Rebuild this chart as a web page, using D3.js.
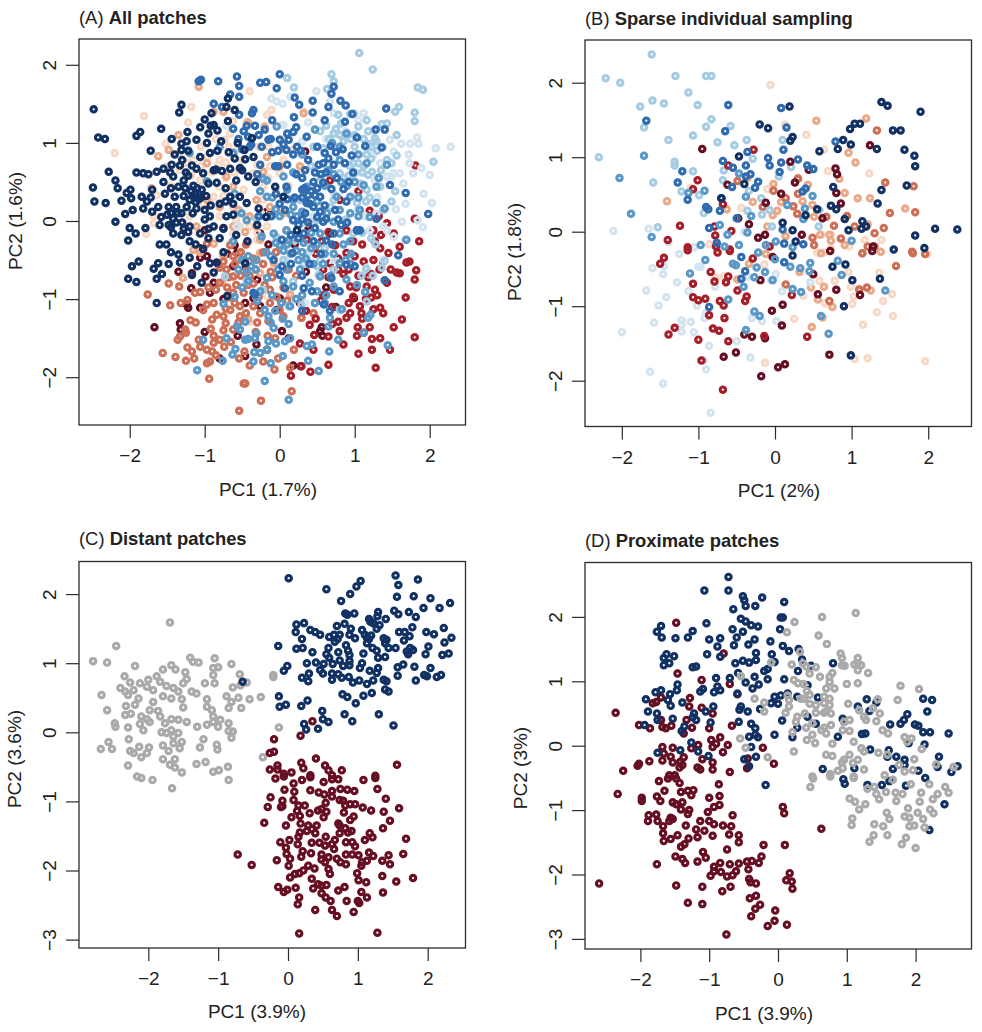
<!DOCTYPE html>
<html>
<head>
<meta charset="utf-8">
<script src="https://cdn.jsdelivr.net/npm/d3@7"></script>
<style>
  body { margin: 0; background: #fff; }
  svg { display: block; }
  text { font-family: "Liberation Sans", Arial, sans-serif; fill: #222; }
</style>
</head>
<body>
<div id="chart"></div>
<script>
// Tick labels
var ticksAX = [-2, -1, 0, 1, 2], ticksAY = [-2, -1, 0, 1, 2];
var ticksBX = [-2, -1, 0, 1, 2], ticksBY = [-2, -1, 0, 1, 2];
var ticksCX = [-2, -1, 0, 1, 2], ticksCY = [-3, -2, -1, 0, 1, 2];
var ticksDX = [-2, -1, 0, 1, 2], ticksDY = [-3, -2, -1, 0, 1, 2];

// Panel A values per colour group
var aMaroon = [[-1.06,-0.35],[-0.17,0.12],[-0.11,0.10],[0.38,-0.07],[-1.00,-0.12],[-0.75,-0.09],[-0.26,-0.16],[0.34,0.89],[-0.60,-0.31],[0.67,-0.16],[-1.67,-1.36],[-1.18,-0.86],[-1.24,-1.07],[-1.22,-1.11],[-1.33,-1.31],[-1.32,-1.39],[-1.00,-1.42],[-0.80,-1.76],[-1.06,-1.11],[-0.93,-0.92],[-0.88,-0.79],[-1.35,-0.65],[-1.06,-0.47],[-0.97,-0.45],[-0.62,-0.58],[-0.57,-0.41],[-0.46,-1.05],[-0.56,-1.47],[-0.46,-1.73],[-0.31,-1.58],[-0.17,-1.65],[0.03,-1.41],[0.12,-1.50],[0.18,-1.85],[0.28,-1.86],[0.56,-1.36],[0.57,-1.47],[0.99,-0.99],[-0.04,-1.14],[0.00,-0.99],[-0.35,-0.99],[-0.26,-1.09],[0.27,-1.05],[0.54,-1.41],[-0.99,-0.71],[-1.17,-0.67],[-0.82,-0.55],[-0.70,-0.42],[-0.45,-0.60],[-0.30,-0.75],[-0.15,-0.30],[0.20,-0.30],[0.35,-0.65],[0.62,-0.85],[0.75,-1.10],[-0.75,-1.00]];
var aRed = [[1.81,0.71],[1.80,0.03],[1.86,-0.26],[1.20,0.13],[1.32,0.06],[1.43,-0.03],[1.05,0.38],[0.80,0.27],[0.67,0.52],[1.52,-0.16],[1.25,-0.12],[1.03,-0.12],[0.89,-0.12],[0.65,-0.14],[1.27,-0.26],[1.60,-0.33],[1.34,-0.35],[0.98,-0.26],[0.74,-0.31],[0.36,-0.24],[0.56,-0.26],[1.82,-0.63],[1.80,-0.75],[1.73,-0.52],[1.69,-0.53],[1.56,-0.66],[1.60,-0.67],[1.68,-0.98],[1.63,-1.26],[1.52,-1.36],[1.80,-1.49],[1.47,-1.65],[1.34,-1.50],[1.23,-1.51],[1.23,-1.65],[1.05,-1.70],[1.28,-1.88],[0.65,-1.84],[0.85,-1.58],[1.20,-1.36],[1.04,-1.36],[1.03,-1.47],[1.12,-1.43],[1.38,-1.18],[1.34,-1.11],[1.25,-1.13],[1.09,-1.18],[0.89,-1.24],[0.94,-1.18],[0.78,-1.29],[0.80,-1.41],[0.65,-1.48],[0.45,-1.65],[0.40,-1.33],[0.46,-1.46],[0.27,-1.57],[0.29,-1.86],[0.41,-1.93],[0.15,-1.98],[1.27,-0.88],[1.16,-0.84],[0.98,-0.97],[1.07,-1.09],[0.72,-0.88],[1.45,-0.41],[1.25,-0.50],[1.12,-0.52],[0.89,-0.41],[0.67,-0.54],[0.94,-0.84],[0.58,-0.62],[1.43,-0.79],[1.18,-0.72],[1.33,-0.62],[1.05,-0.70],[0.85,-0.68],[0.48,-0.42],[1.22,-0.98],[0.92,-1.05],[0.70,-1.10],[0.55,-1.02],[0.35,-1.15],[1.10,-0.30],[0.78,-0.48],[1.02,-0.85],[1.15,-1.00],[1.30,-0.95],[1.22,-0.68],[1.38,-0.52],[0.92,-0.62],[0.65,-0.72],[0.78,-0.62],[0.58,-0.95],[0.48,-1.25],[0.70,-1.32],[1.00,-0.45],[1.35,-0.18],[1.48,-0.62],[1.10,-1.25]];
var aPale = [[-0.40,1.66],[-1.18,1.46],[-1.81,1.34],[-2.20,0.87],[-1.22,1.26],[-1.52,0.99],[-0.11,1.42],[-0.17,1.36],[0.03,1.23],[-0.44,1.27],[-0.66,1.12],[-0.73,1.04],[-0.80,0.78],[-0.97,0.82],[-1.15,0.78],[-0.35,0.82],[-1.51,0.70],[-1.33,0.65],[-1.06,0.52],[-1.64,0.33],[-1.68,0.06],[-1.68,-0.03],[-1.78,-0.17],[-0.13,0.70],[0.05,0.78],[-0.22,0.44],[-0.62,0.18],[-0.80,0.06],[-0.53,-0.07],[-0.40,-0.07],[-0.22,0.27],[0.32,0.67],[0.00,0.61],[-0.35,0.61],[-0.88,0.31],[-0.80,0.44],[-1.20,0.06],[-1.24,0.74],[-0.17,-0.07],[0.32,1.40],[-1.08,-0.16],[-0.31,-0.24],[-0.62,-0.16],[-1.11,-0.38],[-0.51,-0.39],[-0.40,-1.29],[-0.42,-0.45],[-0.17,-0.96],[0.14,-0.96],[-0.90,0.62],[-0.72,0.75],[-0.58,0.90],[-0.28,0.95],[-0.05,0.40],[-0.48,0.40],[-0.65,-0.28],[-0.25,0.10],[-1.35,0.85],[-1.05,0.95],[-0.62,1.28],[0.12,0.45],[-0.72,0.55],[-0.60,0.62],[-0.50,0.78],[-0.68,0.95],[-0.85,1.05],[-0.30,0.72],[-0.45,0.05],[-0.58,0.02],[-0.30,-0.15],[-0.42,-0.28],[-0.82,0.72],[-0.15,0.55],[-1.05,0.70],[-1.18,0.58],[-1.45,0.45],[-1.02,0.22],[-0.75,0.32],[-0.15,0.95],[0.18,0.92],[0.05,1.05]];
var aSalmon = [[-1.08,1.72],[-1.35,1.10],[-1.71,0.42],[-1.62,0.83],[-0.88,1.40],[-0.75,1.40],[-0.42,1.26],[-0.20,1.21],[0.32,1.38],[-1.48,0.91],[-0.97,0.27],[-0.71,0.57],[-0.97,0.74],[-0.62,0.44],[-0.22,0.63],[0.00,0.70],[-0.17,0.82],[0.27,0.70],[-0.31,0.27],[-0.40,0.06],[-0.80,0.18],[-0.55,0.14],[-0.31,-0.07],[0.09,-0.12],[0.05,0.10],[-0.13,0.18],[-0.46,-0.14],[-0.62,-0.07],[-0.26,-0.24],[-1.11,-0.07],[-1.26,-0.07],[-0.88,-0.29],[-1.29,-0.73],[-1.06,-0.40],[-1.15,-0.37],[-0.77,-0.79],[-0.53,-0.50],[-0.26,-0.41],[0.14,-0.94],[-0.08,-0.54],[-0.42,-1.26],[-0.26,-0.67],[0.29,-1.24],[-0.75,-0.45]];
var aBrick = [[-1.76,-0.94],[-1.48,-0.80],[-1.34,-0.84],[-1.46,-1.08],[-1.19,-1.27],[-1.25,-1.43],[-1.36,-1.52],[-1.23,-1.62],[-1.56,-1.69],[-1.39,-1.74],[-1.25,-1.79],[-1.14,-1.76],[-1.17,-1.67],[-1.06,-1.61],[-0.97,-1.65],[-0.90,-1.67],[-0.97,-1.82],[-0.93,-1.80],[-0.94,-2.02],[-0.88,-1.47],[-0.80,-1.52],[-0.88,-1.56],[-0.74,-1.61],[-1.08,-1.52],[-0.48,-2.08],[-0.46,-2.08],[-0.25,-2.30],[-0.54,-2.43],[0.16,-2.18],[-0.54,-1.76],[-0.40,-1.85],[-0.22,-1.80],[-0.47,-1.67],[-0.02,-1.76],[-0.07,-1.90],[0.19,-1.65],[-0.16,-1.47],[-0.06,-1.50],[-0.62,-1.39],[-0.90,-1.26],[-0.72,-1.31],[-0.88,-1.05],[-0.97,-1.07],[-1.06,-0.91],[-1.13,-0.92],[-1.23,-1.01],[-0.84,-1.20],[-0.66,-1.14],[-0.53,-1.09],[-0.35,-1.09],[-0.26,-1.18],[-0.13,-1.05],[0.00,-1.14],[0.29,-1.24],[0.45,-1.18],[-0.80,-0.79],[-0.62,-0.71],[-0.44,-0.62],[-0.35,-0.80],[-0.13,-0.88],[-0.62,-0.92],[-0.53,-1.22],[-0.28,-0.97],[-0.04,-0.97],[-0.71,-0.62],[-1.33,-1.48],[-1.26,-1.39],[0.14,-1.88],[-1.02,-1.14],[-0.75,-1.22],[-0.97,-0.29],[-0.66,-0.31],[0.18,-0.24],[0.47,-0.35],[-0.70,-0.85],[-0.58,-0.82],[-0.48,-0.92],[-0.40,-0.70],[-0.22,-0.55],[-0.10,-0.72],[0.05,-0.85],[-0.75,-1.40],[-0.60,-1.05],[-0.45,-1.18],[-0.15,-1.28],[0.10,-1.02],[-0.80,-0.60],[-0.52,-0.40],[-0.35,-0.48],[-0.60,-0.55],[-0.68,-0.98],[-0.92,-1.38],[-0.95,-0.85],[-0.30,-1.30],[0.22,-0.70],[-0.05,-0.40],[-0.68,-0.72],[-0.52,-0.70],[-0.75,-0.52],[-0.42,-0.82],[-0.20,-0.82],[-0.32,-0.62],[-0.12,-0.65],[-0.85,-0.88],[-0.72,-1.12],[-0.55,-1.30],[-0.32,-1.42],[-0.65,-1.55],[-0.85,-1.72],[-1.12,-1.30],[-1.32,-1.05],[0.05,-1.22],[0.12,-0.62],[-0.62,-0.45],[-0.45,-0.30],[-0.22,-0.40]];
var aMist = [[2.28,0.95],[2.08,0.93],[1.83,1.07],[1.85,0.99],[1.74,0.99],[1.62,0.99],[1.52,0.89],[1.72,0.85],[1.73,0.74],[1.89,0.68],[1.78,0.61],[2.00,0.59],[1.65,0.48],[1.92,0.35],[2.03,0.23],[1.84,0.01],[1.91,-0.08],[1.52,0.61],[1.43,0.57],[0.49,1.66],[-0.11,1.57],[-0.04,1.53],[0.04,1.50],[0.14,1.59],[1.12,1.38],[1.00,1.38],[1.05,1.29],[0.38,1.26],[0.05,1.23],[0.72,1.38],[0.67,1.53],[1.25,0.85],[1.16,0.93],[-0.71,1.22],[1.47,1.04],[1.34,0.74],[1.60,0.61],[1.49,0.57],[1.27,0.52],[1.29,0.10],[1.63,-0.01],[1.43,-0.12],[1.20,-0.12],[1.14,0.06],[0.98,0.31],[0.72,0.35],[-0.57,-0.07],[-0.26,0.06],[0.32,-0.03],[0.45,0.06],[1.52,-0.20],[1.38,-0.07],[1.38,-0.50],[1.16,-0.60],[0.72,-0.50],[0.34,-1.05],[0.40,-0.39],[0.09,-0.50],[1.10,0.45],[1.30,0.30],[1.55,0.15],[1.68,0.22],[1.02,0.62],[0.88,1.15],[0.62,1.05],[0.30,1.02],[1.38,0.95],[1.25,1.15]];
var aSky = [[1.06,2.15],[1.24,1.94],[0.69,1.88],[0.72,1.79],[1.84,1.71],[1.91,1.68],[0.19,1.71],[0.10,1.83],[0.63,1.69],[1.59,1.46],[1.54,1.40],[1.80,1.39],[1.80,1.28],[1.43,1.25],[1.36,1.24],[1.16,1.29],[1.56,1.10],[0.94,1.37],[1.05,1.21],[0.78,1.36],[0.54,1.15],[0.72,1.12],[0.80,1.10],[1.27,1.06],[1.29,1.02],[1.18,0.99],[2.05,0.76],[1.56,0.84],[1.43,0.78],[1.16,0.85],[1.05,0.74],[1.23,0.63],[1.18,0.59],[1.49,0.74],[1.07,0.48],[1.54,0.38],[1.34,0.44],[1.16,0.40],[1.15,0.25],[1.38,0.14],[1.49,0.25],[0.45,0.95],[0.58,0.93],[0.98,0.74],[0.80,0.61],[0.94,0.70],[0.72,0.27],[1.03,0.23],[0.27,0.27],[-0.13,0.06],[0.49,0.01],[0.98,-0.16],[1.68,-0.24],[-0.31,0.03],[1.09,-0.70],[1.24,-0.70],[1.15,-0.61],[1.40,-0.51],[1.36,-0.60],[1.16,-1.03],[1.14,-0.91],[0.80,-1.14],[0.52,-0.69],[0.36,-0.50],[0.54,-0.50],[0.29,-1.07],[0.47,-1.05],[0.12,-1.09],[0.05,-0.50],[0.18,-0.77],[-0.22,-0.88],[-0.44,-0.77],[-0.73,-0.71],[0.66,1.05],[0.75,1.18],[0.85,1.02],[1.00,0.95],[1.12,1.05],[0.92,0.58],[1.10,0.62],[1.22,0.80],[0.68,0.18],[0.88,0.02],[1.22,-0.22],[0.60,-0.35],[0.72,-0.62],[0.20,-0.25],[-0.05,-0.20],[1.00,1.10],[0.95,1.05],[0.90,1.12],[1.22,0.95],[1.30,0.90],[1.12,0.70],[0.98,0.60],[1.20,0.30],[1.32,0.55],[1.05,0.15],[0.85,0.55],[0.55,0.55],[0.42,0.70],[0.82,1.25],[0.62,1.22],[1.18,1.15],[1.35,0.65],[1.10,-0.15],[1.28,-0.30],[0.50,-0.58],[0.32,-0.55]];
var aSteel = [[-1.20,0.87],[-0.80,0.95],[-0.97,0.51],[-0.62,0.87],[-0.26,0.38],[-0.17,0.52],[-0.60,0.35],[-0.51,0.10],[-0.17,0.31],[0.18,0.18],[-0.04,1.21],[0.47,1.17],[0.89,1.12],[1.05,0.85],[1.16,0.74],[0.80,0.78],[1.32,0.55],[1.12,0.46],[1.29,0.44],[1.43,0.72],[0.94,0.31],[1.07,0.14],[1.29,0.23],[1.40,0.16],[0.80,0.14],[1.05,0.06],[0.36,0.44],[0.05,0.57],[-0.22,0.54],[0.65,0.65],[0.76,0.31],[0.18,0.27],[0.23,0.06],[0.00,0.06],[0.63,0.10],[0.94,0.10],[-0.62,-0.26],[-0.44,0.01],[0.72,-0.01],[0.54,-0.16],[0.09,-0.12],[0.94,-0.26],[1.69,-0.24],[-0.08,-0.16],[-0.24,-0.20],[0.00,-0.31],[0.80,-0.16],[-1.02,-1.52],[-0.71,-1.50],[-1.10,-1.91],[-0.76,-1.79],[-0.63,-1.71],[-0.59,-1.64],[-0.34,-1.68],[-0.26,-1.69],[-0.35,-1.80],[-0.12,-1.82],[0.04,-1.73],[0.07,-1.54],[0.14,-1.50],[0.38,-1.79],[0.52,-1.92],[0.36,-1.60],[0.43,-1.58],[0.66,-1.67],[0.78,-1.52],[1.44,-1.59],[1.18,-1.24],[1.21,-1.20],[1.12,-1.43],[0.12,-2.29],[-0.20,-2.05],[-0.17,-1.65],[-0.15,-1.54],[-0.05,-1.57],[-0.33,-1.50],[-0.42,-1.51],[-0.46,-1.52],[-0.31,-1.44],[-0.57,-1.35],[-0.46,-1.29],[-0.53,-1.39],[0.04,-1.25],[0.12,-1.32],[-0.08,-1.37],[-0.20,-1.14],[-0.06,-1.15],[-0.15,-1.22],[-0.75,-1.06],[-0.60,-0.97],[0.65,-1.35],[0.67,-1.24],[0.60,-1.05],[0.47,-1.05],[0.14,-1.09],[0.18,-0.84],[0.05,-0.77],[-0.17,-0.73],[-0.42,-0.77],[-0.26,-0.90],[-0.44,-0.67],[-0.31,-0.50],[0.25,-0.50],[0.40,-0.79],[0.54,-0.71],[0.72,-0.84],[0.89,-0.75],[1.03,-0.82],[1.14,-0.91],[0.83,-1.13],[0.80,-0.54],[0.27,-0.62],[0.09,-0.62],[0.15,-0.42],[0.30,-0.40],[0.45,-0.55],[0.60,-0.42],[0.68,-0.70],[0.95,-0.55],[0.12,-0.25],[0.32,-0.28],[0.50,-0.30],[-0.12,-0.45],[-0.02,-0.62],[0.30,-0.95],[0.50,-0.90],[0.62,-0.95],[-0.10,0.30],[0.10,0.40],[0.30,0.12],[0.50,0.25],[0.90,0.45],[1.20,0.05],[-0.32,-0.62],[-0.50,-0.50],[0.10,-0.30],[0.22,-0.38],[0.35,-0.48],[0.42,-0.35],[0.58,-0.55],[0.72,-0.42],[0.85,-0.30],[0.95,-0.42],[0.05,-0.38],[-0.05,-0.28],[-0.18,-0.40],[-0.42,-0.45],[-0.38,-0.58],[-0.55,-0.62],[-0.50,-0.85],[-0.30,-1.02],[-0.10,-0.95],[0.02,-1.05],[0.22,-1.00],[-0.12,-1.30],[0.72,0.60],[0.60,0.45],[0.82,0.50],[1.00,0.50],[1.05,0.30],[0.80,0.95],[0.70,1.00],[0.30,0.85],[0.18,0.62],[-0.05,0.15],[0.15,0.08],[0.42,-0.15],[0.88,-0.50]];
var aBlue = [[-1.08,1.79],[-1.05,1.81],[-0.82,1.79],[-0.57,1.85],[-0.54,1.73],[-0.26,1.77],[-0.18,1.78],[0.00,1.88],[-0.04,1.70],[-0.66,1.62],[-0.54,1.59],[-0.88,1.50],[-0.77,1.46],[-0.35,1.42],[-0.37,1.38],[-0.54,1.36],[-0.10,1.29],[0.20,1.58],[0.26,1.49],[0.44,1.54],[0.44,1.39],[0.65,1.46],[0.72,1.72],[0.69,1.63],[0.81,1.54],[0.88,1.48],[0.97,1.37],[1.42,1.44],[0.60,1.29],[0.19,1.33],[0.87,1.27],[1.28,1.17],[1.40,1.17],[1.36,0.94],[1.14,0.96],[1.03,1.07],[0.84,0.92],[-0.44,1.22],[-0.33,1.22],[-0.20,1.17],[0.18,1.14],[-0.42,1.08],[-0.15,1.04],[0.00,1.04],[0.12,1.04],[0.23,0.95],[0.36,1.08],[-0.24,0.95],[0.09,0.91],[0.18,0.85],[0.38,0.78],[-0.10,0.88],[0.60,0.87],[0.58,0.74],[0.72,0.72],[0.87,0.74],[-0.06,0.70],[-0.02,0.70],[-0.26,0.72],[0.96,0.84],[0.34,0.65],[0.47,0.62],[0.22,0.60],[0.09,0.44],[0.58,0.49],[0.76,0.55],[0.92,0.50],[0.98,0.62],[1.47,0.46],[1.68,0.36],[0.85,0.41],[0.69,0.41],[0.47,0.33],[0.54,0.31],[0.38,0.33],[0.36,0.23],[0.07,0.14],[0.18,0.01],[0.54,0.12],[0.74,0.14],[0.34,0.10],[0.58,-0.01],[0.89,0.25],[1.03,-0.12],[1.29,0.03],[1.07,-0.12],[0.47,-0.09],[0.72,-0.16],[0.32,-0.16],[0.03,-0.24],[0.45,-0.26],[-0.28,0.06],[-0.11,0.06],[1.98,0.09],[0.00,-0.69],[0.40,-0.55],[0.17,-0.41],[0.03,-0.58],[0.07,-0.86],[0.89,-0.56],[0.69,-0.73],[1.58,-0.44],[1.40,-0.76],[0.59,-1.07],[0.67,-1.15],[0.80,-0.90],[-0.33,-0.94],[-0.35,-0.92],[0.43,-0.90],[0.32,-0.86],[0.30,-1.15],[1.00,-0.58],[-0.50,0.92],[-0.38,0.98],[-0.30,0.60],[0.05,0.98],[0.28,0.90],[0.50,0.95],[0.68,0.96],[0.52,0.72],[0.45,0.50],[0.30,0.40],[0.60,0.20],[0.20,0.30],[0.00,0.22],[0.82,-0.05],[0.62,-0.25],[0.25,-0.05],[0.15,-0.18],[-0.55,1.05],[-0.62,1.18],[0.30,0.30],[0.33,0.42],[0.42,0.38],[0.50,0.42],[0.40,0.22],[0.55,0.60],[0.62,0.62],[0.65,0.80],[0.75,0.88],[0.30,0.55],[0.10,0.72],[-0.02,0.90],[-0.12,1.05],[-0.40,0.95],[-0.48,1.15],[-0.28,1.10],[0.22,1.20],[0.10,1.12],[0.45,0.18],[0.10,0.28],[-0.05,0.35],[0.25,-0.22],[0.38,-0.02],[0.62,0.03],[0.78,0.02],[0.90,-0.02],[0.55,-0.42],[0.70,-0.30],[0.15,-0.55],[0.30,-0.70],[-0.08,-0.50],[0.50,0.05],[0.30,0.02]];
var aNavy = [[-2.48,1.43],[-2.42,1.07],[-2.33,1.05],[-1.91,1.09],[-1.86,1.14],[-1.58,1.18],[-1.72,0.90],[-1.31,1.49],[-1.34,1.39],[-1.06,1.20],[-0.69,1.57],[-0.71,1.46],[-0.60,1.42],[-0.91,1.38],[-0.69,1.28],[-0.88,1.23],[-1.23,1.14],[-0.95,1.12],[-0.83,1.16],[-1.44,1.05],[-1.31,0.99],[-1.24,1.02],[-1.11,1.04],[-0.97,1.00],[-1.31,0.91],[-1.06,0.82],[-1.40,0.85],[-0.93,0.87],[-0.83,0.90],[-0.56,1.00],[-0.37,1.06],[-0.47,0.91],[-0.60,0.80],[-0.46,0.79],[-0.35,0.82],[-2.28,0.63],[-2.19,0.52],[-2.16,0.42],[-2.49,0.43],[-2.47,0.25],[-2.32,0.23],[-2.11,0.26],[-1.99,0.40],[-2.04,0.36],[-1.98,0.29],[-1.96,0.14],[-2.06,0.09],[-2.19,-0.01],[-2.00,-0.09],[-1.92,-0.16],[-1.79,-0.09],[-2.02,-0.25],[-1.60,-0.30],[-1.51,-0.30],[-1.91,0.62],[-1.82,0.61],[-1.75,0.60],[-1.64,0.63],[-1.55,0.67],[-1.44,0.72],[-1.33,0.71],[-1.17,0.71],[-1.11,0.67],[-1.02,0.61],[-0.88,0.65],[-0.77,0.64],[-0.66,0.67],[-0.53,0.68],[-0.42,0.57],[-0.32,0.50],[-1.84,0.31],[-1.77,0.25],[-1.82,0.16],[-1.62,0.18],[-1.55,0.50],[-1.42,0.57],[-1.28,0.52],[-1.35,0.44],[-1.53,0.35],[-1.40,0.31],[-1.48,0.18],[-1.42,0.03],[-1.31,0.10],[-1.20,0.27],[-1.13,0.35],[-1.04,0.40],[-1.24,0.18],[-1.11,0.16],[-1.00,0.14],[-0.84,0.49],[-0.66,0.31],[-0.53,0.31],[-0.44,0.23],[-0.80,0.22],[-0.93,0.06],[-0.71,0.06],[-1.20,-0.07],[-1.06,-0.16],[-0.88,-0.07],[-1.42,-0.16],[-1.31,-0.18],[-1.20,-0.26],[-0.95,-0.22],[-0.80,-0.22],[-0.43,-0.26],[-0.28,0.16],[0.05,0.31],[-0.06,0.44],[0.23,-0.12],[-1.88,-0.52],[-1.97,-0.58],[-2.02,-0.74],[-1.91,-0.78],[-1.68,-0.61],[-1.62,-0.54],[-1.57,-0.68],[-1.64,-0.74],[-1.48,-0.55],[-1.45,-0.40],[-1.35,-0.43],[-1.33,-0.53],[-1.20,-0.47],[-1.17,-0.69],[-1.04,-0.79],[-0.93,-0.54],[-0.84,-0.53],[-0.88,-0.66],[-1.64,-1.05],[-0.70,-0.96],[-0.46,-0.54],[-1.15,0.45],[-1.08,0.28],[-1.16,0.10],[-1.28,0.32],[-1.46,0.62],[-1.36,0.10],[-1.30,-0.02],[-0.98,0.32],[-0.72,0.42],[-1.22,0.58],[-1.48,-0.05],[-1.58,0.05],[-1.70,0.12],[-0.58,0.52],[-0.92,0.20],[-0.75,-0.10],[-0.62,0.08],[-1.02,-0.36],[-1.12,-0.30],[-1.16,0.32],[-1.12,0.24],[-1.05,0.30],[-1.18,0.38],[-1.10,0.42],[-1.38,0.18],[-1.45,0.10],[-1.50,0.08],[-1.38,-0.02],[-1.45,-0.08],[-1.28,-0.10],[-1.22,-0.14],[-1.00,0.02],[-0.95,-0.10],[-0.72,0.25],[-0.62,0.22],[-0.95,0.48],[-1.26,0.42],[-1.45,0.42],[-1.70,0.40],[-1.72,0.30],[-1.30,0.78],[-1.22,0.90],[-1.00,1.30],[-0.92,1.22],[-0.78,1.02],[-0.68,0.88],[-0.50,0.65],[-0.85,0.66],[-1.25,0.62],[-1.60,-0.05],[-1.10,-0.58],[-0.75,-0.40],[-0.58,-0.18],[-0.30,-0.05],[-0.18,0.05]];

// Panel B values
var bMaroon = [[-0.95,1.11],[0.20,0.94],[0.79,0.85],[0.81,0.77],[1.24,1.16],[0.80,0.52],[0.86,0.38],[0.26,0.66],[0.08,0.51],[-0.12,0.39],[-0.34,0.10],[-0.48,0.18],[-0.62,0.63],[-0.22,-0.08],[-0.13,-0.04],[0.35,-0.04],[0.62,0.18],[1.28,-0.20],[0.44,0.83],[-0.03,-0.34],[0.72,-0.26],[1.27,-0.26],[0.50,-0.57],[-0.19,-0.65],[0.56,-0.84],[0.80,-0.78],[1.11,-0.85],[0.10,-0.98],[-0.04,-1.06],[0.09,-1.26],[-0.40,-1.38],[-0.30,-1.41],[-0.13,-1.43],[-0.51,-1.62],[-0.67,-1.68],[0.71,-1.65],[0.13,-1.78],[0.04,-1.82],[-0.18,-1.94]];
var bRed = [[-0.28,1.10],[-0.61,0.89],[-1.01,0.69],[-1.07,0.57],[-0.68,0.37],[-1.24,0.08],[-0.78,-0.05],[-0.57,0.01],[-0.79,0.07],[-1.40,-0.11],[-1.14,-0.21],[-0.77,-0.20],[-0.59,-0.24],[-0.07,-0.20],[-1.45,-0.35],[-1.50,-0.43],[-1.14,-0.25],[-0.75,-0.28],[-0.59,-0.26],[-0.29,-0.36],[-0.84,-0.54],[-1.07,-0.70],[-0.64,-0.68],[-0.61,-0.60],[-0.79,-0.67],[-1.07,-0.88],[-1.00,-0.92],[-0.91,-0.90],[-0.72,-0.93],[-0.67,-0.99],[-0.49,-0.79],[-0.37,-0.87],[-0.39,-0.93],[-0.86,-1.12],[-0.66,-1.16],[-1.31,-1.29],[-1.39,-1.38],[-0.81,-1.30],[-0.73,-1.33],[-1.00,-1.45],[-0.61,-1.47],[-0.68,-2.12],[-0.96,-1.73],[-0.14,-1.40],[0.42,-1.41],[0.22,-0.85]];
var bPale = [[-0.06,1.97],[0.13,1.44],[0.41,1.30],[0.64,1.10],[0.69,0.81],[1.23,0.78],[-0.44,0.32],[-1.10,0.59],[-0.10,0.57],[-0.86,-0.17],[1.39,-0.11],[0.73,-0.04],[0.60,-0.04],[0.97,-0.20],[1.17,-0.11],[0.73,-0.22],[0.13,-0.06],[0.55,-0.28],[0.64,-0.28],[1.99,-0.30],[-0.14,-0.44],[-0.77,-0.61],[-0.67,-0.60],[0.96,-0.54],[0.58,-0.66],[0.78,-0.66],[0.99,-0.74],[1.03,-0.87],[1.01,-0.97],[1.36,-0.55],[1.41,-0.93],[1.53,-0.84],[1.33,-1.08],[1.54,-1.13],[1.15,-1.25],[0.65,-0.96],[0.37,-0.86],[0.25,-1.17],[-0.13,-1.76],[1.04,-1.71],[1.21,-1.70],[1.96,-1.74]];
var bSalmon = [[0.54,1.49],[1.19,1.52],[0.96,1.06],[1.05,0.93],[0.84,0.71],[0.91,0.52],[1.08,0.45],[1.24,0.45],[1.70,0.31],[-1.41,0.41],[-0.63,0.30],[-0.29,0.40],[-0.02,0.64],[0.08,0.40],[0.36,0.41],[0.49,0.36],[-0.03,0.22],[0.03,0.28],[0.51,0.20],[0.30,0.72],[0.43,0.63],[-0.10,0.07],[0.14,-0.06],[0.59,-0.04],[0.71,-0.04],[1.21,0.10],[0.91,-0.18],[0.73,-0.12],[-0.36,0.72],[1.14,-0.29],[1.38,-0.27],[-0.34,-0.43],[-0.12,-0.30],[0.32,-0.54],[0.47,-0.75],[0.64,-0.74],[0.56,-0.91],[0.75,-1.01],[1.10,-0.77],[1.25,-0.79],[0.48,-1.28],[0.62,-1.15],[-0.49,-0.64],[0.60,-0.29]];
var bBrick = [[1.33,1.36],[-0.49,0.68],[0.30,0.71],[-0.02,0.55],[0.30,0.51],[0.24,0.34],[0.29,0.24],[-0.16,0.33],[1.44,0.66],[1.81,0.61],[1.83,0.26],[1.50,0.25],[0.94,0.21],[0.77,0.08],[1.04,0.07],[1.42,0.05],[1.30,-0.02],[0.86,-0.09],[0.49,-0.08],[0.67,0.20],[0.14,0.45],[1.21,-0.20],[1.30,-0.20],[0.51,-0.18],[1.79,-0.27],[1.80,-0.29],[1.58,-0.46],[1.14,-0.29],[0.14,-0.71],[1.20,-0.75],[0.71,-0.93],[1.10,-0.78],[1.96,-0.30]];
var bMist = [[-2.11,0.01],[-1.65,0.04],[-1.39,-0.14],[-1.05,-0.21],[-0.40,0.00],[-1.25,-0.30],[-1.45,-0.46],[-1.60,-0.49],[-1.46,-0.57],[-1.00,-0.47],[-0.97,-0.47],[-1.28,-0.68],[-1.68,-0.79],[-1.13,-0.80],[-1.42,-0.88],[-0.78,-0.74],[-1.52,-0.99],[-1.02,-0.99],[-1.58,-1.22],[-1.22,-1.19],[-1.22,-1.25],[-1.22,-1.34],[-1.10,-1.21],[-1.06,-1.35],[-2.00,-1.35],[-0.92,-1.16],[-0.90,-1.09],[-0.86,-1.53],[-0.50,-1.47],[-0.93,-1.73],[-0.90,-1.85],[-1.63,-1.88],[-1.46,-2.04],[-0.84,-2.43],[-0.32,-1.69],[-0.30,-1.16],[-0.17,-1.20],[0.02,-1.20],[0.09,-0.80],[0.01,-0.57],[-0.05,-0.65],[0.46,-0.68],[-0.36,-0.60]];
var bSky = [[-1.61,2.38],[-2.21,2.06],[-2.02,2.00],[-1.30,2.09],[-0.90,2.09],[-0.83,2.09],[-1.13,1.87],[-1.76,1.68],[-1.60,1.76],[-1.45,1.72],[-1.01,1.70],[-1.71,1.40],[-0.83,1.51],[-0.90,1.41],[-0.58,1.42],[-1.07,1.29],[-1.39,1.23],[-0.75,1.20],[-0.37,1.23],[-0.53,1.16],[-2.30,1.00],[-1.31,0.94],[-1.31,0.89],[-1.07,0.81],[-1.59,0.66],[-1.22,0.54],[-0.99,0.49],[-0.93,0.25],[-1.53,0.06],[-0.29,0.98],[-0.67,0.82],[-0.68,0.69],[0.21,0.87],[0.10,1.23],[-0.18,0.45],[-0.36,0.28],[-0.17,0.23],[-0.07,0.29],[0.05,0.74],[-0.34,0.55],[-0.04,0.07],[0.57,0.07],[0.58,0.29]];
var bSteel = [[-1.71,1.02],[-2.03,0.72],[-1.88,0.24],[-1.61,-0.07],[-0.92,0.55],[-1.13,0.52],[-0.47,0.78],[-0.38,0.47],[-0.31,0.21],[-0.72,0.09],[-0.62,-0.04],[-0.36,-0.01],[-0.97,-0.18],[-0.47,-0.18],[-0.66,-0.20],[0.01,-0.13],[-0.12,-0.18],[0.16,0.36],[0.37,0.17],[0.39,0.31],[0.49,0.48],[1.00,-0.12],[0.23,-0.21],[-0.91,-0.38],[-1.11,-0.56],[-0.55,-0.43],[-0.51,-0.45],[-0.41,-0.74],[-0.24,-0.48],[-0.27,-0.61],[-0.13,-0.54],[0.00,-0.37],[-0.03,-0.65],[0.33,-0.49],[0.20,-0.47],[0.46,-0.42],[0.45,-0.53],[0.82,-0.39],[0.87,-0.58],[0.23,-0.77],[0.34,-0.81],[1.44,-0.79],[-0.61,-0.91],[-0.27,-1.07],[-0.20,-1.13],[0.60,-1.13],[-0.38,-1.32],[0.70,-1.37],[-0.22,-0.28]];
var bBlue = [[-0.61,1.70],[0.08,1.66],[-1.68,1.49],[-0.65,1.35],[0.15,1.40],[0.11,1.10],[-0.36,1.07],[-0.09,0.99],[-0.68,0.95],[-0.55,0.86],[-0.38,0.89],[-0.07,0.89],[0.08,0.93],[0.30,0.97],[0.42,0.89],[0.50,0.84],[0.06,0.80],[-1.21,0.81],[-1.27,0.66],[-0.38,0.74],[-0.32,0.77],[-0.22,0.67],[-0.26,0.59],[-0.56,0.60],[-1.14,0.43],[-0.90,0.33],[-0.87,0.30],[-0.72,0.28],[-0.70,0.45],[-0.50,0.18],[-0.86,0.05],[0.10,0.03],[0.36,0.54],[0.40,0.58],[0.79,1.21],[-0.76,-0.15],[0.12,-0.16],[0.37,-0.17],[-0.44,-0.34],[0.12,-0.41],[-0.39,-0.53],[-0.44,-0.63],[-0.86,-1.01]];
var bNavy = [[0.19,1.68],[-0.20,1.44],[-0.09,1.39],[0.20,1.22],[0.23,1.27],[-0.47,1.01],[0.58,1.08],[0.82,1.11],[0.89,1.23],[0.99,1.17],[0.98,1.38],[1.04,1.45],[1.11,1.45],[1.39,1.74],[1.47,1.69],[1.90,1.61],[1.54,1.36],[1.64,1.36],[1.33,1.11],[1.69,1.10],[1.82,1.02],[1.83,0.88],[1.72,0.62],[1.39,0.56],[1.34,0.38],[0.76,0.60],[0.73,0.35],[0.80,0.30],[0.55,0.30],[-0.40,0.64],[-0.70,0.45],[0.10,0.12],[0.23,0.02],[0.91,0.17],[1.14,0.14],[0.96,0.02],[1.13,0.04],[1.19,0.07],[2.09,0.04],[2.38,0.03],[1.83,-0.05],[1.55,-0.24],[1.95,-0.22],[0.27,-0.13],[0.40,0.22],[0.23,-0.32],[0.75,-0.47],[0.92,-0.44],[1.01,-0.65],[1.37,-0.63],[0.90,-1.00],[0.99,-1.66]];

// Panel C values
var cGray = [[-1.69,1.59],[-2.46,1.25],[-2.79,1.03],[-2.59,1.01],[-2.19,0.96],[-2.34,0.81],[-2.26,0.72],[-2.40,0.64],[-2.67,0.54],[-2.59,0.32],[-2.48,0.13],[-2.47,0.08],[-2.33,0.25],[-2.25,0.27],[-2.29,0.07],[-2.28,-0.10],[-2.57,-0.14],[-2.68,-0.24],[-2.52,-0.24],[-2.26,-0.27],[-2.21,-0.30],[-2.13,-0.21],[-1.99,-0.22],[-2.10,-0.36],[-2.02,-0.30],[-2.29,-0.48],[-1.79,-0.19],[-1.71,-0.27],[-1.79,-0.39],[-1.62,-0.39],[-1.69,-0.47],[-1.62,-0.51],[-1.52,-0.58],[-1.31,-0.46],[-1.18,-0.43],[-1.07,-0.57],[-0.99,-0.55],[-0.86,-0.50],[-1.26,-0.22],[-1.02,-0.18],[-1.01,-0.25],[-1.21,-0.10],[-1.55,-0.23],[-1.64,-0.16],[-1.52,-0.14],[-1.57,-0.01],[-1.67,0.03],[-1.81,0.00],[-1.74,-0.01],[-1.64,-0.06],[-2.07,0.03],[-2.12,0.12],[-1.98,0.15],[-2.10,0.23],[-2.02,0.19],[-1.86,0.31],[-1.98,0.32],[-1.83,0.23],[-1.76,0.13],[-1.67,0.19],[-1.57,0.18],[-1.45,0.15],[-1.50,0.36],[-1.52,0.48],[-1.79,0.52],[-1.67,0.49],[-1.93,0.44],[-2.19,0.40],[-2.32,0.38],[-2.14,0.49],[-2.29,0.54],[-2.33,0.59],[-2.21,0.61],[-2.12,0.71],[-2.02,0.66],[-1.93,0.61],[-2.00,0.76],[-1.88,0.81],[-1.83,0.73],[-1.74,0.67],[-1.64,0.64],[-1.57,0.59],[-1.50,0.71],[-1.45,0.77],[-1.47,0.87],[-1.79,0.91],[-1.67,0.97],[-1.61,0.91],[-1.40,1.08],[-1.36,1.02],[-1.28,1.01],[-1.05,1.07],[-1.07,0.93],[-1.00,0.94],[-0.81,0.99],[-1.07,0.83],[-1.05,0.71],[-1.19,0.71],[-1.38,0.59],[-1.31,0.56],[-0.79,0.65],[-0.69,0.84],[-0.59,0.72],[-0.68,0.68],[-0.88,0.52],[-0.81,0.44],[-0.71,0.50],[-0.55,0.48],[-0.39,0.51],[-0.85,0.35],[-0.67,0.35],[-1.16,0.48],[-1.16,0.37],[-1.09,0.32],[-1.07,0.23],[-1.30,0.08],[-1.16,0.11],[-1.07,0.15],[-1.00,0.08],[-0.97,0.18],[-0.85,0.13],[-0.85,0.02],[-0.79,0.01],[-0.81,-0.08],[-0.21,0.83],[-0.21,0.80],[-0.13,0.07],[-0.36,-0.36],[-1.94,-0.69],[-2.10,-0.66],[-2.16,-0.64],[-1.66,-0.81],[-0.85,-0.69]];
var cNavy = [[0.01,2.23],[0.55,2.07],[0.76,1.90],[0.89,2.00],[0.98,2.11],[1.04,2.19],[1.54,2.27],[1.58,2.13],[1.86,2.21],[1.56,1.96],[1.80,1.97],[2.04,1.94],[2.32,1.87],[2.17,1.80],[1.94,1.80],[1.52,1.76],[1.58,1.71],[1.73,1.74],[1.83,1.67],[1.78,1.52],[1.98,1.45],[2.09,1.42],[2.23,1.51],[2.34,1.37],[2.24,1.30],[2.01,1.24],[1.97,1.13],[2.30,1.14],[2.21,1.12],[1.81,0.95],[2.04,0.93],[1.95,0.83],[1.99,0.81],[2.13,0.80],[2.19,0.83],[1.83,0.75],[1.57,0.82],[1.57,0.94],[1.65,0.98],[1.54,1.22],[1.59,1.45],[1.67,1.45],[1.74,1.39],[1.66,1.33],[1.70,1.17],[1.72,1.13],[1.79,1.19],[1.75,1.22],[0.82,1.72],[0.85,1.70],[0.95,1.72],[0.70,1.54],[0.81,1.57],[0.90,1.50],[1.16,1.64],[1.18,1.60],[1.22,1.58],[1.29,1.74],[1.28,1.68],[1.40,1.64],[1.31,1.55],[1.27,1.50],[1.06,1.48],[1.10,1.41],[1.13,1.37],[1.16,1.35],[1.19,1.40],[1.13,1.29],[1.21,1.22],[1.27,1.18],[1.08,1.14],[0.96,1.36],[0.88,1.41],[0.74,1.41],[0.66,1.41],[0.59,1.38],[0.71,1.35],[0.67,1.31],[0.83,1.26],[0.58,1.22],[0.72,1.16],[0.86,1.18],[0.88,1.12],[0.55,1.13],[0.59,1.08],[0.74,1.04],[0.88,1.03],[0.88,0.97],[0.79,0.96],[0.64,0.99],[0.51,0.99],[0.40,1.01],[0.27,1.00],[0.46,0.90],[0.50,0.85],[0.63,0.85],[0.72,0.84],[0.63,0.76],[0.77,0.79],[0.87,0.80],[0.93,0.72],[1.02,0.75],[1.13,0.70],[1.06,1.00],[1.03,0.93],[1.17,0.89],[1.29,0.93],[1.27,0.86],[1.22,0.75],[1.37,0.76],[1.41,0.74],[1.39,1.09],[1.29,1.08],[1.41,1.34],[1.39,1.29],[1.44,1.22],[1.37,1.36],[0.11,1.45],[0.12,1.56],[0.23,1.58],[0.20,1.35],[0.32,1.48],[0.39,1.45],[0.46,1.41],[-0.14,1.25],[0.12,1.21],[0.21,1.22],[0.35,1.16],[-0.01,0.96],[-0.06,0.89],[0.20,0.79],[0.30,0.85],[0.29,0.74],[-0.65,0.73],[0.78,0.55],[0.85,0.51],[1.08,0.53],[1.20,0.57],[0.97,0.42],[1.39,0.62],[1.44,0.59],[-0.13,0.52],[-0.12,0.37],[-0.03,0.40],[0.19,0.38],[0.28,0.46],[0.49,0.31],[0.50,0.19],[0.58,0.15],[0.81,0.26],[0.92,0.16],[1.30,0.26],[1.51,0.10],[0.23,0.12],[0.26,0.04],[0.43,0.05]];
var cMaroon = [[0.35,0.16],[0.18,-0.05],[-0.20,-0.10],[-0.26,-0.30],[-0.20,-0.28],[0.19,-0.44],[0.22,-0.52],[0.40,-0.38],[0.53,-0.48],[0.58,-0.55],[0.77,-0.55],[1.56,-0.47],[-0.26,-0.54],[-0.15,-0.48],[-0.15,-0.54],[-0.06,-0.60],[0.05,-0.58],[0.32,-0.62],[1.25,-0.63],[0.63,-0.62],[-0.18,-0.67],[-0.06,-0.64],[0.08,-0.74],[0.20,-0.69],[0.32,-0.65],[0.51,-0.72],[0.63,-0.68],[0.72,-0.68],[1.08,-0.69],[1.25,-0.66],[1.28,-0.82],[-0.05,-0.83],[0.09,-0.86],[0.32,-0.84],[0.44,-0.87],[0.52,-0.90],[0.63,-0.85],[0.63,-0.93],[0.75,-0.82],[0.85,-0.83],[0.95,-0.85],[1.40,-0.96],[-0.25,-0.94],[-0.29,-1.08],[-0.08,-0.99],[-0.08,-1.07],[-0.10,-1.08],[0.08,-0.98],[0.15,-1.06],[0.24,-1.06],[0.13,-1.14],[0.54,-1.02],[0.43,-1.13],[0.48,-1.11],[0.55,-1.15],[0.74,-0.98],[0.79,-0.99],[0.82,-1.06],[0.89,-1.04],[0.96,-1.04],[0.80,-1.16],[1.07,-1.09],[1.19,-1.13],[1.37,-1.15],[1.59,-1.10],[1.46,-1.28],[0.94,-1.22],[0.89,-1.27],[-0.34,-1.31],[-0.03,-1.35],[0.05,-1.23],[0.17,-1.21],[0.31,-1.17],[0.51,-1.23],[0.18,-1.32],[0.29,-1.35],[0.41,-1.35],[0.34,-1.40],[0.27,-1.43],[0.39,-1.46],[0.17,-1.45],[0.15,-1.51],[0.72,-1.32],[0.74,-1.35],[0.82,-1.39],[0.91,-1.43],[0.86,-1.45],[0.74,-1.46],[1.36,-1.39],[1.17,-1.46],[1.21,-1.52],[1.10,-1.56],[1.69,-1.54],[-0.11,-1.59],[0.02,-1.56],[0.14,-1.62],[0.34,-1.60],[0.45,-1.60],[0.54,-1.51],[0.53,-1.64],[0.63,-1.62],[0.67,-1.56],[0.83,-1.59],[0.92,-1.59],[0.96,-1.65],[0.66,-1.69],[-0.03,-1.67],[-0.02,-1.76],[0.21,-1.72],[0.33,-1.75],[0.19,-1.80],[0.03,-1.83],[-0.72,-1.77],[-0.52,-1.92],[-0.16,-1.85],[0.01,-1.93],[0.48,-1.77],[0.48,-1.84],[0.58,-1.81],[0.53,-1.88],[0.70,-1.83],[0.75,-1.88],[0.83,-1.91],[0.83,-1.77],[0.92,-1.77],[1.01,-1.78],[1.16,-1.74],[1.22,-1.79],[1.13,-1.86],[1.06,-1.88],[1.05,-1.93],[1.35,-1.86],[1.44,-1.78],[1.46,-1.91],[1.65,-1.76],[1.35,-2.08],[1.55,-2.16],[1.79,-2.11],[0.99,-2.04],[1.01,-2.14],[1.12,-2.17],[1.05,-2.31],[1.36,-2.32],[1.13,-2.39],[1.00,-2.44],[1.02,-2.47],[0.94,-2.60],[0.84,-2.44],[0.81,-2.24],[0.72,-2.29],[0.60,-2.05],[0.58,-1.98],[0.38,-1.97],[0.29,-1.93],[0.22,-2.00],[0.16,-2.04],[0.10,-2.05],[0.03,-2.10],[0.34,-2.12],[0.43,-2.20],[0.48,-2.22],[0.55,-2.21],[0.36,-2.26],[0.48,-2.33],[0.54,-2.39],[0.61,-2.44],[0.11,-2.25],[-0.14,-2.24],[-0.06,-2.31],[-0.01,-2.28],[0.16,-2.39],[0.14,-2.49],[0.39,-2.57],[0.63,-2.57],[0.70,-2.66],[0.16,-2.91],[1.28,-2.90]];

// Panel D values
var dMaroon = [[-1.48,1.91],[-0.79,1.43],[-1.46,1.12],[-1.11,1.02],[-0.70,0.96],[-0.59,0.80],[-2.36,0.51],[-1.28,0.74],[-1.29,0.61],[-1.11,0.59],[-0.95,0.50],[-1.82,0.66],[-1.77,0.68],[-1.70,0.75],[-2.02,0.32],[-1.86,0.27],[-1.68,0.29],[-1.63,0.27],[-1.55,0.31],[-1.70,0.40],[-1.33,0.40],[-1.25,0.28],[-1.00,0.27],[-0.67,0.31],[-1.37,0.19],[-0.84,0.13],[-0.97,0.09],[-0.95,-0.02],[-0.90,0.03],[-0.73,0.01],[-0.80,-0.10],[-1.16,0.01],[-1.26,-0.04],[-1.68,-0.02],[-1.53,-0.03],[-1.66,-0.12],[-0.22,-0.03],[-0.06,-0.28],[-0.44,-0.20],[-0.45,-0.35],[-1.68,-0.23],[-1.56,-0.17],[-1.37,-0.18],[-1.42,-0.25],[-1.53,-0.26],[-1.43,-0.34],[-1.39,-0.30],[-1.10,-0.21],[-0.95,-0.26],[-0.95,-0.37],[-1.17,-0.34],[-1.13,-0.37],[-1.87,-0.24],[-2.02,-0.28],[-2.04,-0.31],[-2.25,-0.39],[-0.70,-0.41],[-1.58,-0.46],[-1.50,-0.46],[-2.33,-0.75],[-1.73,-0.55],[-1.60,-0.51],[-1.48,-0.51],[-1.43,-0.58],[-1.65,-0.70],[-1.41,-0.72],[-1.31,-0.70],[-1.23,-0.69],[-1.26,-0.77],[-0.86,-0.60],[-0.85,-0.78],[-1.00,-0.81],[-1.98,-0.81],[-1.98,-0.86],[-1.76,-0.79],[-1.71,-0.86],[-1.53,-0.88],[-1.48,-0.91],[-1.39,-0.88],[-1.41,-0.99],[-1.29,-1.00],[-1.31,-1.06],[-0.93,-0.95],[-0.85,-0.92],[-1.02,-1.03],[-0.66,-1.08],[0.07,-0.95],[0.09,-1.05],[0.63,-1.29],[-1.88,-1.08],[-1.77,-1.07],[-1.89,-1.17],[-1.75,-1.17],[-1.67,-1.25],[-1.56,-1.12],[-1.53,-1.14],[-1.58,-1.17],[-1.34,-1.24],[-1.13,-1.17],[-1.00,-1.17],[-0.93,-1.22],[-0.80,-1.24],[-0.68,-1.25],[-1.19,-1.30],[-1.07,-1.32],[-1.17,-1.42],[-0.95,-1.40],[-0.71,-1.38],[-0.57,-1.39],[-0.57,-1.50],[-1.67,-1.36],[-1.66,-1.48],[-1.56,-1.45],[-1.46,-1.39],[-1.30,-1.44],[-1.36,-1.53],[-1.41,-1.57],[-0.21,-1.54],[0.10,-1.54],[-0.74,-1.61],[-1.09,-1.65],[-1.05,-1.74],[-1.49,-1.72],[-1.39,-1.76],[-1.35,-1.82],[-1.76,-1.84],[-1.17,-1.80],[-0.93,-1.88],[-0.84,-1.82],[-0.70,-1.84],[-0.57,-1.83],[-0.45,-1.80],[-0.38,-1.79],[-0.28,-1.82],[-0.24,-1.72],[-0.43,-1.92],[-0.93,-1.95],[-0.83,-1.96],[-0.61,-1.95],[-0.98,-2.02],[-0.74,-2.03],[-0.66,-2.01],[-0.42,-2.07],[-0.40,-2.12],[-0.32,-2.14],[0.17,-1.98],[0.12,-2.09],[0.20,-2.11],[0.21,-2.22],[-2.60,-2.14],[-1.48,-2.17],[-1.10,-2.19],[-0.69,-2.19],[-0.81,-2.26],[-0.32,-2.33],[-0.41,-2.37],[-0.26,-2.47],[-0.33,-2.53],[-1.31,-2.44],[-1.10,-2.46],[-0.04,-2.56],[-0.39,-2.65],[-0.05,-2.72],[-0.15,-2.80],[0.13,-2.78],[-0.75,-2.93]];
var dNavy = [[-0.72,2.62],[-1.07,2.41],[-0.72,2.41],[-0.51,2.32],[-0.49,2.26],[-0.23,2.30],[0.09,2.23],[-0.47,2.17],[-0.33,2.17],[-0.65,2.12],[0.04,1.99],[0.07,1.99],[-0.54,1.97],[-0.47,1.93],[-0.39,1.87],[-0.29,1.85],[-1.04,1.90],[-0.66,1.81],[-0.51,1.77],[0.03,1.81],[-1.24,1.78],[-1.70,1.86],[-1.76,1.77],[-1.69,1.68],[-1.49,1.67],[-1.31,1.68],[-1.00,1.65],[-0.84,1.67],[-0.60,1.68],[-0.34,1.65],[-0.43,1.57],[-0.64,1.56],[-0.88,1.54],[-0.11,1.62],[0.07,1.55],[0.16,1.47],[0.30,1.50],[-1.03,1.42],[-0.84,1.38],[-0.32,1.44],[-0.09,1.42],[0.35,1.34],[-1.62,1.42],[-1.51,1.39],[-1.66,1.36],[-1.58,1.28],[-1.66,1.25],[-1.24,1.22],[-1.19,1.23],[-0.62,1.28],[-0.51,1.32],[-0.42,1.29],[-0.32,1.33],[-0.05,1.30],[-0.20,1.16],[-0.15,1.19],[0.48,1.24],[0.80,1.28],[0.29,1.16],[-0.58,1.13],[-0.47,0.98],[-0.34,1.07],[-0.90,1.05],[-0.70,1.05],[-0.15,1.03],[0.09,1.03],[-0.28,0.95],[-0.37,0.89],[-1.46,0.95],[-1.47,0.86],[-1.70,0.86],[-1.78,0.83],[-1.57,0.80],[-1.13,0.84],[-1.09,0.88],[-0.88,0.92],[-0.84,0.86],[-0.93,0.83],[-0.59,0.81],[-1.92,0.72],[-1.60,0.71],[-1.56,0.62],[-1.39,0.67],[-0.94,0.61],[-1.05,0.53],[-0.54,0.61],[-0.56,0.56],[-0.44,0.53],[-0.26,0.57],[-0.05,0.76],[0.04,0.78],[-0.10,0.66],[0.00,0.65],[0.14,0.81],[0.43,0.94],[0.58,0.75],[0.28,0.76],[-1.89,0.53],[-1.76,0.50],[-1.75,0.40],[-1.53,0.42],[-1.22,0.50],[-1.24,0.44],[-1.19,0.40],[-1.94,0.32],[-1.36,0.30],[-1.40,0.23],[-0.98,0.36],[-0.57,0.37],[-0.39,0.34],[-0.33,0.27],[0.06,0.39],[0.28,0.28],[0.21,0.13],[0.43,0.45],[0.55,0.34],[-0.05,0.17],[-0.33,0.17],[-0.42,0.14],[-0.29,0.13],[0.87,0.14],[0.94,0.42],[0.96,0.37],[1.16,0.61],[1.29,0.72],[1.43,0.67],[1.33,0.54],[1.22,0.18],[1.27,0.19],[1.63,0.33],[1.78,0.34],[1.83,0.40],[1.88,0.49],[1.99,0.33],[2.04,0.31],[2.11,0.21],[2.21,0.21],[2.48,0.19],[2.17,0.53],[2.11,0.73],[2.24,0.71],[2.13,0.02],[1.90,0.04],[2.34,-0.17],[2.61,-0.32],[2.52,-0.41],[2.32,-0.33],[2.04,-0.39],[1.84,-0.22],[1.72,-0.17],[1.61,-0.07],[1.59,-0.17],[1.67,-0.36],[1.84,-0.30],[1.34,-0.06],[1.11,-0.35],[0.65,-0.36],[-0.39,-0.02],[-0.32,-0.17],[-0.49,-0.21],[-0.42,-0.32],[-1.26,0.05],[-1.42,-0.07],[-1.75,-0.11],[-1.16,-0.09],[-1.01,-0.16],[-0.18,-0.61],[0.95,-0.52],[0.97,-0.59],[1.30,-0.61],[1.51,-0.61],[1.62,-0.55],[1.86,-0.62],[2.14,-0.50],[2.42,-0.91],[2.20,-1.31]];
var dGray = [[1.13,2.06],[0.64,2.00],[0.24,1.92],[0.13,1.76],[0.59,1.71],[0.71,1.58],[0.32,1.46],[0.91,1.43],[0.93,1.36],[1.16,1.36],[0.93,1.25],[0.97,1.24],[1.11,1.26],[1.16,1.28],[1.21,1.25],[1.16,1.17],[1.31,1.13],[0.20,1.26],[0.36,1.28],[0.55,1.22],[0.41,1.23],[0.46,1.12],[-0.10,1.29],[0.61,1.07],[-0.54,1.08],[0.79,1.13],[0.75,1.07],[0.75,0.99],[1.00,0.96],[1.16,0.97],[1.78,0.93],[2.05,0.88],[0.23,1.02],[0.29,0.97],[0.37,0.96],[0.82,0.89],[0.70,0.89],[0.42,0.85],[0.46,0.79],[0.14,0.78],[-0.34,0.73],[0.16,0.71],[0.33,0.73],[0.38,0.73],[0.67,0.76],[0.75,0.73],[1.02,0.65],[1.45,0.72],[1.74,0.71],[-0.20,0.67],[-0.20,0.53],[0.16,0.61],[0.46,0.65],[0.55,0.63],[0.67,0.66],[0.75,0.63],[0.70,0.53],[0.77,0.50],[0.67,0.51],[0.55,0.51],[0.39,0.50],[0.28,0.45],[0.11,0.51],[1.18,0.55],[1.38,0.58],[1.48,0.50],[1.25,0.45],[1.28,0.40],[1.43,0.38],[1.04,0.40],[0.96,0.37],[0.77,0.32],[0.26,0.37],[0.41,0.28],[0.50,0.35],[0.67,0.28],[0.63,0.24],[0.70,0.19],[0.50,0.17],[0.94,0.24],[1.04,0.23],[1.52,0.24],[1.60,0.19],[0.21,0.21],[-0.55,0.11],[0.42,0.09],[0.54,0.04],[0.79,0.03],[1.10,0.06],[1.84,0.13],[1.94,0.11],[1.88,0.06],[-0.47,-0.03],[0.23,-0.09],[1.21,-0.04],[1.25,-0.09],[1.46,-0.11],[2.09,-0.05],[0.70,-0.14],[0.79,-0.16],[-0.15,-0.18],[1.04,-0.14],[0.96,-0.22],[1.16,-0.22],[1.09,-0.27],[0.93,-0.26],[1.59,-0.14],[1.98,-0.21],[1.76,-0.30],[2.30,-0.29],[2.55,-0.33],[1.25,-0.37],[0.87,-0.39],[0.94,-0.35],[0.76,-0.44],[0.50,-0.48],[1.10,-0.48],[1.55,-0.46],[1.84,-0.40],[1.96,-0.38],[0.47,-0.64],[0.51,-0.51],[0.76,-0.48],[1.10,-0.50],[1.30,-0.67],[1.40,-0.64],[1.43,-0.75],[1.47,-0.83],[1.04,-0.82],[1.12,-0.87],[1.27,-0.91],[1.18,-0.99],[1.57,-0.72],[1.71,-0.73],[1.72,-0.86],[1.81,-0.75],[1.67,-0.53],[1.93,-0.60],[2.08,-0.73],[2.20,-0.60],[2.43,-0.64],[2.48,-0.73],[2.32,-0.75],[2.25,-0.83],[2.06,-0.87],[1.89,-0.97],[2.03,-1.04],[2.21,-0.99],[2.26,-1.05],[1.58,-1.04],[1.62,-1.14],[1.84,-1.10],[1.91,-1.12],[1.08,-1.13],[1.07,-1.23],[1.40,-1.22],[1.53,-1.25],[1.91,-1.25],[1.98,-1.24],[2.11,-1.14],[2.13,-1.27],[1.39,-1.39],[1.33,-1.49],[1.59,-1.39],[1.86,-1.43],[1.80,-1.53],[2.00,-1.59]];

// Colours of the groups
var maroon = "#660f22", red = "#a51f2a", pale = "#f8d9c6", salmon = "#eaa987", brick = "#cd6f56";
var mist = "#d3e4f0", sky = "#a5cce2", steel = "#5a98c8", blue = "#2f6bae", navy = "#113163", gray = "#aaaaaa";

// Each panel: frame in page pixels, tick spacing in pixels, texts
var panels = [
  { tag: "(A) ", title: "All patches", xLabel: "PC1 (1.7%)", yLabel: "PC2 (1.6%)",
    left: 79, right: 465.5, top: 39, bottom: 425, x0: 279.7, xUnit: 75, y0: 221, yUnit: 78.1,
    titleY: 23.5, xLabelX: 268, xLabelY: 496, yLabelX: 21.5, yLabelY: 221, xTicks: ticksAX, yTicks: ticksAY,
    groups: [[aMaroon, maroon], [aPale, pale], [aSalmon, salmon], [aBrick, brick], [aRed, red], [aMist, mist], [aSky, sky], [aSteel, steel], [aBlue, blue], [aNavy, navy]] },
  { tag: "(B) ", title: "Sparse individual sampling", xLabel: "PC1 (2%)", yLabel: "PC2 (1.8%)",
    left: 585, right: 971.5, top: 40, bottom: 426.5, x0: 775, xUnit: 76.6, y0: 231.7, yUnit: 74.5,
    titleY: 24.5, xLabelX: 779, xLabelY: 497, yLabelX: 521, yLabelY: 252, xTicks: ticksBX, yTicks: ticksBY,
    groups: [[bPale, pale], [bSalmon, salmon], [bBrick, brick], [bMist, mist], [bSky, sky], [bMaroon, maroon], [bRed, red], [bSteel, steel], [bBlue, blue], [bNavy, navy]] },
  { tag: "(C) ", title: "Distant patches", xLabel: "PC1 (3.9%)", yLabel: "PC2 (3.6%)",
    left: 79, right: 465.5, top: 561.5, bottom: 948, x0: 288, xUnit: 69.85, y0: 732.3, yUnit: 69.1,
    titleY: 545, xLabelX: 257, xLabelY: 1017.5, yLabelX: 21, yLabelY: 759, xTicks: ticksCX, yTicks: ticksCY,
    groups: [[cGray, gray], [cNavy, navy], [cMaroon, maroon]] },
  { tag: "(D) ", title: "Proximate patches", xLabel: "PC1 (3.9%)", yLabel: "PC2 (3%)",
    left: 585, right: 971.5, top: 562.5, bottom: 949, x0: 778, xUnit: 68.8, y0: 745.7, yUnit: 64.4,
    titleY: 546.5, xLabelX: 764, xLabelY: 1020, yLabelX: 527, yLabelY: 768, xTicks: ticksDX, yTicks: ticksDY,
    groups: [[dMaroon, maroon], [dNavy, navy], [dGray, gray]] }
];

var svg = d3.select("#chart")
  .append("svg")
  .attr("width", 982)
  .attr("height", 1032);

panels.forEach(function(p) {
  var g = svg.append("g");

  // Scales, frame edges converted through the tick spacing
  var x = d3.scaleLinear()
    .domain([(p.left - p.x0) / p.xUnit, (p.right - p.x0) / p.xUnit])
    .range([p.left, p.right]);
  var y = d3.scaleLinear()
    .domain([(p.y0 - p.bottom) / p.yUnit, (p.y0 - p.top) / p.yUnit])
    .range([p.bottom, p.top]);

  // Points, open circles with a heavy line
  p.groups.forEach(function(group) {
    g.append("g").selectAll("circle")
      .data(group[0])
      .enter()
      .append("circle")
      .attr("cx", d => x(d[0]))
      .attr("cy", d => y(d[1]))
      .attr("r", 2.7)
      .attr("fill", "none")
      .attr("stroke", group[1])
      .attr("stroke-width", 3.1);
  });

  // Frame
  g.append("rect")
    .attr("x", p.left)
    .attr("y", p.top)
    .attr("width", p.right - p.left)
    .attr("height", p.bottom - p.top)
    .attr("fill", "none")
    .attr("stroke", "#2b2b2b")
    .attr("stroke-width", 1.3);

  // Axes
  var xAxis = g.append("g")
    .attr("transform", `translate(0, ${p.bottom})`)
    .call(d3.axisBottom(x).tickValues(p.xTicks).tickFormat(d3.format("d")).tickSize(13).tickPadding(11));
  var yAxis = g.append("g")
    .attr("transform", `translate(${p.left}, 0)`)
    .call(d3.axisLeft(y).tickValues(p.yTicks).tickFormat(d3.format("d")).tickSize(13).tickPadding(9));

  [xAxis, yAxis].forEach(function(axis) {
    axis.select(".domain").remove();
    axis.selectAll("line").attr("stroke", "#2b2b2b").attr("stroke-width", 1.2);
    axis.selectAll("text").attr("font-size", 19).style("font-family", "'Liberation Sans', Arial, sans-serif").style("fill", "#222");
  });

  // R style y tick labels, turned along the axis
  yAxis.selectAll("text")
    .attr("text-anchor", "middle")
    .attr("dy", 0)
    .attr("x", 0)
    .attr("y", 0)
    .attr("transform", "translate(-23, 0) rotate(-90)");

  // Title and axis labels
  var title = g.append("text").attr("x", p.left).attr("y", p.titleY).attr("font-size", 18.4);
  title.append("tspan").text(p.tag);
  title.append("tspan").attr("font-weight", "bold").text(p.title);

  g.append("text")
    .attr("x", p.xLabelX)
    .attr("y", p.xLabelY)
    .attr("text-anchor", "middle")
    .attr("font-size", 19)
    .text(p.xLabel);

  g.append("text")
    .attr("transform", `translate(${p.yLabelX}, ${p.yLabelY}) rotate(-90)`)
    .attr("text-anchor", "middle")
    .attr("font-size", 19)
    .text(p.yLabel);
});
</script>
</body>
</html>
